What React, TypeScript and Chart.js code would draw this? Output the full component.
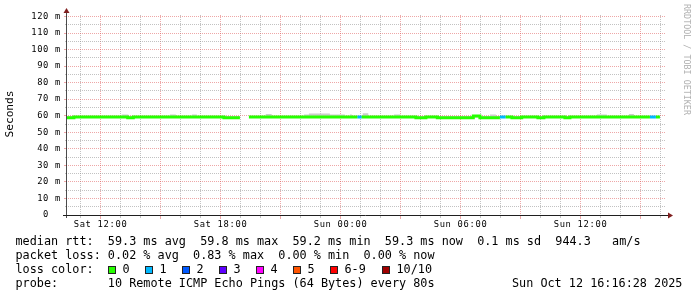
import React, { useEffect, useRef } from 'react';
import { Chart, registerables } from 'chart.js';

Chart.register(...registerables);

// ---- time axis (hours since Sat 00:00) ----
const rangeStart = 10 + 16 / 60 + 28 / 3600; // Sat 10:16:28
const rangeEnd = rangeStart + 30; // Sun 16:16:28
const hourTicks = [11, 12, 13, 14, 15, 16, 17, 18, 19, 20, 21, 22, 23, 24, 25, 26, 27, 28, 29, 30, 31, 32, 33, 34, 35, 36, 37, 38, 39, 40];
const labelHours = [12, 18, 24, 30, 36];
const labelTexts = ['Sat 12:00', 'Sat 18:00', 'Sun 00:00', 'Sun 06:00', 'Sun 12:00'];

// ---- value axis (ms) ----
const msTicks = [0, 5, 10, 15, 20, 25, 30, 35, 40, 45, 50, 55, 60, 65, 70, 75, 80, 85, 90, 95, 100, 105, 110, 115, 120];
const msLabelValues = [0, 10, 20, 30, 40, 50, 60, 70, 80, 90, 100, 110, 120];
const msLabelTexts = ['0  ', '10 m', '20 m', '30 m', '40 m', '50 m', '60 m', '70 m', '80 m', '90 m', '100 m', '110 m', '120 m'];

// ---- median rtt (ms), segment boundaries, loss count per segment ----
const medianTimes = [10.32, 10.67, 13.36, 13.64, 18.17, 18.97, 19.42, 24.84, 25.06, 27.77, 28.27, 28.84, 30.64, 30.97, 31.97, 32.26, 32.57, 33.06, 33.87, 34.17, 35.22, 35.47, 39.47, 39.77, 39.97];
const medianValues: (number | null)[] = [58.8, 59.3, 58.8, 59.3, 58.8, null, 59.3, 59.3, 59.3, 58.8, 59.3, 58.8, 59.8, 58.8, 59.3, 59.3, 58.8, 59.3, 58.8, 59.3, 58.8, 59.3, 59.3, 59.3];
const medianLoss = [0, 0, 0, 0, 0, 0, 0, 1, 0, 0, 0, 0, 0, 0, 1, 0, 0, 0, 0, 0, 0, 0, 1, 0];

// ---- smoke (max ping envelope, ms) ----
const smokeTimes = [10.32, 13.06, 13.39, 15.47, 15.77, 16.57, 16.82, 18.97, 19.42, 20.26, 20.56, 22.17, 22.42, 23.47, 24.22, 24.47, 24.57, 25.11, 25.39, 26.67, 27.01, 31.47, 31.77, 36.82, 37.32, 38.42, 38.67, 39.97];
const smokeMax: (number | null)[] = [59.9, 60.8, 59.9, 60.8, 59.9, 60.8, 59.9, null, 59.9, 61.0, 59.9, 60.8, 61.3, 60.8, 59.9, 60.8, 59.9, 61.5, 59.9, 60.8, 59.9, 60.8, 59.9, 60.8, 59.9, 61.1, 59.9];
const smokeMin: (number | null)[] = [58.9, 58.9, 58.9, 58.9, 58.9, 58.9, 58.9, null, 58.9, 58.9, 58.9, 58.9, 58.9, 58.9, 58.9, 58.9, 58.9, 58.9, 58.9, 58.9, 58.9, 58.9, 58.9, 58.9, 58.9, 58.9, 58.9];

// ---- legend ----
const lossLabels = ['0', '1', '2', '3', '4', '5', '6-9', '10/10'];
const lossColors = ['#26ff00', '#00b8ff', '#0059ff', '#5e00ff', '#ff00ff', '#ff5500', '#ff0000', '#a00000'];
const statsRtt = 'median rtt:  59.3 ms avg  59.8 ms max  59.2 ms min  59.3 ms now  0.1 ms sd  944.3   am/s';
const statsLoss = 'packet loss: 0.02 % avg  0.83 % max  0.00 % min  0.00 % now';
const probeText = 'probe:       10 Remote ICMP Echo Pings (64 Bytes) every 80s';
const dateText = 'Sun Oct 12 16:16:28 2025';

const MAJOR = 'rgba(222,79,79,0.5)';
const MINOR = 'rgba(143,143,143,0.55)';
const MONO = "'DejaVu Sans Mono', monospace";

function segPoints(times: number[], values: (number | null)[], keep: (i: number) => boolean) {
  const pts: { x: number; y: number | null }[] = [];
  for (let i = 0; i < values.length; i++) {
    const v = values[i];
    if (v === null || !keep(i)) continue;
    const prevKept = i > 0 && values[i - 1] !== null && keep(i - 1);
    if (!prevKept && pts.length) pts.push({ x: times[i], y: null });
    pts.push({ x: times[i], y: v });
    pts.push({ x: times[i + 1], y: v });
  }
  return pts;
}

const align = (p: number) => Math.round(p - 0.5) + 0.5;

const decor = {
  id: 'rrdDecor',
  beforeDraw(chart: any) {
    chart.ctx.letterSpacing = '0.67px';
  },
  afterDraw(chart: any) {
    const ctx = chart.ctx;
    ctx.letterSpacing = '0px';
    const { left, right, bottom } = chart.chartArea;
    const xs = chart.scales.x;
    const ys = chart.scales.y;
    ctx.save();
    ctx.lineWidth = 1;
    // tick marks below x axis
    hourTicks.forEach((h) => {
      const px = align(xs.getPixelForValue(h));
      const major = h % 3 === 0;
      ctx.strokeStyle = major ? MAJOR : MINOR;
      ctx.beginPath();
      ctx.moveTo(px, bottom + 1);
      ctx.lineTo(px, bottom + (major ? 4 : 3));
      ctx.stroke();
    });
    // tick marks left of y axis
    msTicks.forEach((v) => {
      const py = align(ys.getPixelForValue(v));
      const major = v % 10 === 0;
      ctx.strokeStyle = major ? MAJOR : MINOR;
      ctx.beginPath();
      ctx.moveTo(left - (major ? 2 : 1), py);
      ctx.lineTo(left, py);
      ctx.stroke();
    });
    // axes
    const ax = left + 0.5;
    const ay = bottom + 0.5;
    ctx.strokeStyle = 'rgb(31,31,31)';
    ctx.beginPath();
    ctx.moveTo(left - 3, ay);
    ctx.lineTo(right + 2, ay);
    ctx.stroke();
    ctx.strokeStyle = 'rgba(31,31,31,0.8)';
    ctx.beginPath();
    ctx.moveTo(ax, bottom + 3);
    ctx.lineTo(ax, 12);
    ctx.stroke();
    // arrows
    ctx.fillStyle = 'rgb(128,31,31)';
    ctx.beginPath();
    ctx.moveTo(ax - 3, 13);
    ctx.lineTo(ax + 3, 13);
    ctx.lineTo(ax, 8);
    ctx.closePath();
    ctx.fill();
    ctx.beginPath();
    ctx.moveTo(right + 2, ay - 3);
    ctx.lineTo(right + 2, ay + 3);
    ctx.lineTo(right + 7, ay);
    ctx.closePath();
    ctx.fill();
    ctx.restore();
  },
};

export default function App() {
  const ref = useRef<HTMLCanvasElement>(null);
  useEffect(() => {
    const canvas = ref.current!;
    const datasets: any[] = [
      {
        label: 'smoke',
        data: segPoints(smokeTimes, smokeMax, () => true),
        borderWidth: 0,
        pointRadius: 0,
        backgroundColor: '#cccccc',
        fill: '+1',
        order: 2,
      },
      {
        label: 'smokeMin',
        data: segPoints(smokeTimes, smokeMin, () => true),
        borderWidth: 0,
        pointRadius: 0,
        fill: false,
        order: 2,
      },
    ];
    [0, 1].forEach((lvl) => {
      datasets.push({
        label: 'median ' + lvl,
        data: segPoints(medianTimes, medianValues, (i) => medianLoss[i] === lvl),
        borderColor: lossColors[lvl],
        borderWidth: 3,
        borderCapStyle: 'butt',
        borderJoinStyle: 'miter',
        pointRadius: 0,
        fill: false,
        spanGaps: false,
        order: 1,
      });
    });
    const chart = new Chart(canvas, {
      type: 'line',
      data: { datasets },
      plugins: [decor],
      options: {
        responsive: false,
        animation: false,
        devicePixelRatio: 1,
        parsing: true,
        layout: { padding: { left: 0, right: 31, top: 15, bottom: 0 } },
        plugins: { legend: { display: false }, tooltip: { enabled: false } },
        elements: { line: { tension: 0 } },
        scales: {
          x: {
            type: 'linear',
            min: rangeStart,
            max: rangeEnd,
            afterBuildTicks: (s: any) => {
              s.ticks = hourTicks.map((v) => ({ value: v }));
            },
            afterFit: (s: any) => {
              s.height = 82;
            },
            grid: {
              color: (c: any) => (c.tick && c.tick.value % 3 === 0 ? MAJOR : MINOR),
              lineWidth: 1,
              drawTicks: false,
              borderDash: [1, 1],
            } as any,
            border: { display: false, dash: [1, 1] },
            ticks: {
              autoSkip: false,
              maxRotation: 0,
              minRotation: 0,
              padding: 4.4,
              color: '#000',
              font: { family: MONO, size: 8.8 },
              callback: (v: any) => {
                const k = labelHours.indexOf(Number(v));
                return k >= 0 ? labelTexts[k] : '';
              },
            },
          },
          y: {
            type: 'linear',
            min: 0,
            max: 120.9,
            afterBuildTicks: (s: any) => {
              s.ticks = msTicks.map((v) => ({ value: v }));
            },
            afterFit: (s: any) => {
              s.width = 66;
            },
            grid: {
              color: (c: any) => (c.tick && c.tick.value % 10 === 0 ? MAJOR : MINOR),
              lineWidth: 1,
              drawTicks: false,
              borderDash: [1, 1],
            } as any,
            border: { display: false, dash: [1, 1] },
            ticks: {
              autoSkip: false,
              padding: 5,
              color: '#000',
              font: { family: MONO, size: 8.8 },
              callback: (v: any) => {
                const k = msLabelValues.indexOf(Number(v));
                return k >= 0 ? msLabelTexts[k] : '';
              },
            },
          },
        },
      } as any,
    });
    return () => chart.destroy();
  }, []);

  const legendFont: React.CSSProperties = {
    position: 'absolute',
    fontFamily: MONO,
    fontSize: '11.8px',
    lineHeight: '14px',
    whiteSpace: 'pre',
    color: '#000',
  };
  const boxLefts = [108, 145, 182, 219, 256, 293, 330, 382];

  return (
    <div style={{ position: 'absolute', left: 0, top: 0, width: 697, height: 297, background: '#fff', overflow: 'hidden' }}>
      <canvas ref={ref} width={697} height={297} style={{ position: 'absolute', left: 0, top: 0, width: 697, height: 297 }} />
      <div
        style={{
          position: 'absolute',
          left: -14,
          top: 108,
          width: 48,
          height: 12,
          textAlign: 'center',
          transform: 'rotate(-90deg)',
          fontFamily: MONO,
          fontSize: '11.2px',
          fontWeight: 400,
          lineHeight: '12px',
          whiteSpace: 'pre',
          color: '#000',
        }}
      >
        Seconds
      </div>
      <div
        style={{
          position: 'absolute',
          left: 692,
          top: 4,
          transformOrigin: '0 0',
          transform: 'rotate(90deg)',
          fontFamily: MONO,
          fontSize: '8.4px',
          lineHeight: '10px',
          whiteSpace: 'pre',
          color: '#b0b0b0',
        }}
      >
        RRDTOOL / TOBI OETIKER
      </div>
      <div style={{ ...legendFont, left: 15.5, top: 233.9 }}>{statsRtt}</div>
      <div style={{ ...legendFont, left: 15.5, top: 247.9 }}>{statsLoss}</div>
      <div style={{ ...legendFont, left: 15.5, top: 261.9 }}>loss color:</div>
      {lossLabels.map((lab, i) => (
        <React.Fragment key={lab}>
          <div
            style={{
              position: 'absolute',
              left: boxLefts[i],
              top: 266,
              width: 8,
              height: 8,
              boxSizing: 'border-box',
              border: '1px solid #222',
              background: lossColors[i],
            }}
          />
          <div style={{ ...legendFont, left: boxLefts[i] + 14.5, top: 261.9 }}>{lab}</div>
        </React.Fragment>
      ))}
      <div style={{ ...legendFont, left: 15.5, top: 275.9 }}>{probeText}</div>
      <div style={{ ...legendFont, left: 512, top: 275.9 }}>{dateText}</div>
    </div>
  );
}
